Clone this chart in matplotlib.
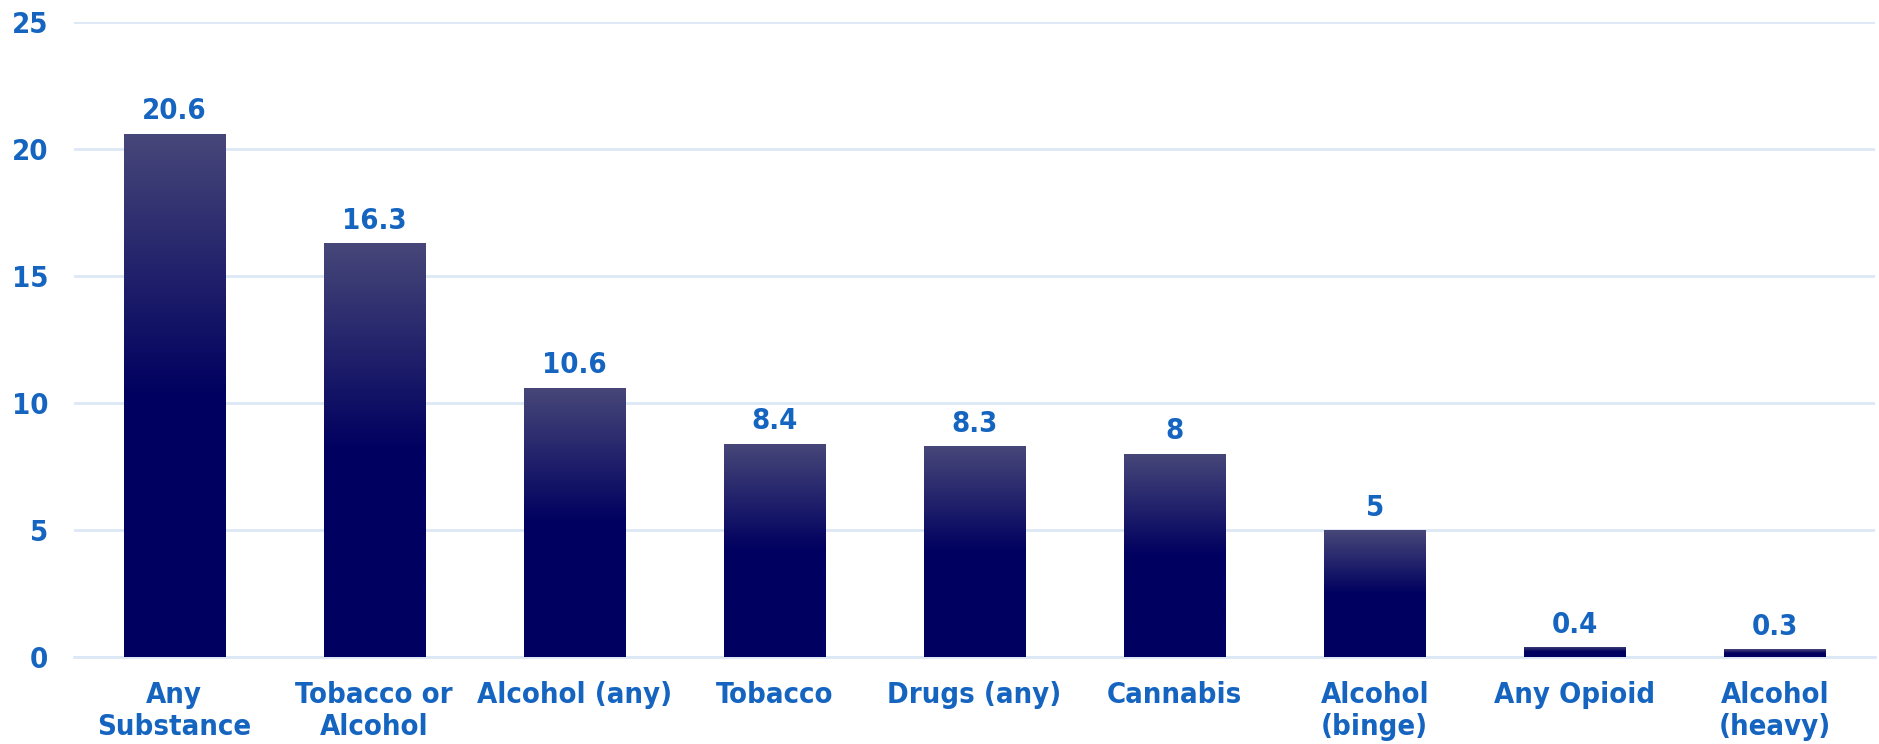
import matplotlib.pyplot as plt
import numpy as np
from matplotlib.colors import LinearSegmentedColormap

categories = ["Any\nSubstance", "Tobacco or\nAlcohol", "Alcohol (any)", "Tobacco",
              "Drugs (any)", "Cannabis", "Alcohol\n(binge)", "Any Opioid", "Alcohol\n(heavy)"]
values = [20.6, 16.3, 10.6, 8.4, 8.3, 8, 5, 0.4, 0.3]
value_labels = ["20.6", "16.3", "10.6", "8.4", "8.3", "8", "5", "0.4", "0.3"]
yticks = [0, 5, 10, 15, 20, 25]

text_color = "#1565c0"
grid_color = "#dce8f6"
fs = 21

plt.rcParams['font.family'] = ['DejaVu Sans']
plt.rcParams['font.weight'] = 'bold'
plt.rcParams['font.stretch'] = 'condensed'

fig = plt.figure(figsize=(18.79, 7.44), dpi=100)
ax = fig.add_axes([74 / 1879, 1 - 657 / 744, 1801 / 1879, 635 / 744])

x = np.arange(len(categories))
bars = ax.bar(x, values, width=0.505, color="#000060", zorder=2)

# vertical gradient inside each bar: lighter at top, solid navy from the middle down
cmap = LinearSegmentedColormap.from_list("bar", [(0, "#000060"), (0.5, "#000060"), (1, "#474779")])
grad = np.linspace(0, 1, 256).reshape(-1, 1)
for b in bars:
    im = ax.imshow(grad, cmap=cmap, aspect="auto", origin="lower", zorder=3,
                   extent=[b.get_x(), b.get_x() + b.get_width(), 0, b.get_height()])
    im.set_clip_path(b)

for xi, v, lab in zip(x, values, value_labels):
    ax.annotate(lab, (xi, v), xytext=(0, 6), textcoords="offset points",
                ha="center", va="bottom", fontsize=fs, fontweight="bold",
                fontstretch="condensed", color=text_color)

ax.set_xlim(-0.5, len(categories) - 0.5)
ax.set_ylim(0, 25)
ax.set_yticks(yticks)
ax.set_xticks(x)
ax.set_xticklabels(categories, fontsize=fs, fontweight="bold", fontstretch="condensed",
                   color=text_color, linespacing=1.22)
ax.tick_params(axis="y", labelsize=fs, labelcolor=text_color, length=0, pad=18.5)
ax.tick_params(axis="x", length=0, pad=17)
for lab in ax.get_yticklabels():
    lab.set_fontweight("bold")
    lab.set_fontstretch("condensed")

ax.grid(axis="y", color=grid_color, linewidth=2, zorder=0)
for s in ["top", "right", "left"]:
    ax.spines[s].set_visible(False)
ax.spines["bottom"].set_color(grid_color)
ax.spines["bottom"].set_linewidth(2)

fig.savefig("out.png", dpi=100)
